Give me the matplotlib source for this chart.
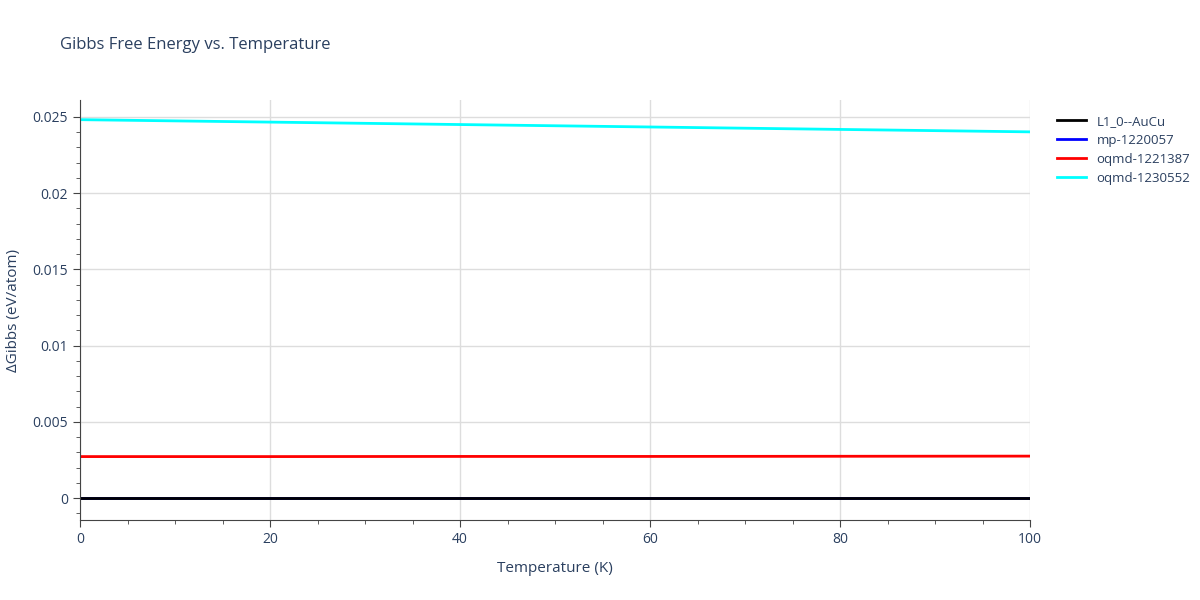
import matplotlib
matplotlib.use("Agg")
import matplotlib.pyplot as plt
import numpy as np

temps = [0, 20, 40, 60, 80, 100]
labels = ["L1_0--AuCu", "mp-1220057", "oqmd-1221387", "oqmd-1230552"]
colors = ["black", "blue", "red", "cyan"]
g_l10 = [0, 0, 0, 0, 0, 0]
g_mp = [0, 0, 0, 0, 0, 0]
g_oq1 = [0.00272, 0.00272, 0.00273, 0.00273, 0.00274, 0.00275]
g_oq2 = [0.02482, 0.02466, 0.02450, 0.02434, 0.02418, 0.02402]
series = [g_l10, g_mp, g_oq1, g_oq2]

plt.rcParams['font.family'] = ['Open Sans', 'DejaVu Sans']
fig = plt.figure(figsize=(12, 6), dpi=100)
ax = fig.add_axes([80/1200, 80/600, 950/1200, 420/600])
for s, l, c in zip(series[::-1], labels[::-1], colors[::-1]):
    pass
order = [1, 0, 2, 3]
handles = {}
for i in [1, 2, 3, 0]:
    h, = ax.plot(temps, series[i], color=colors[i], lw=2, label=labels[i])
    handles[i] = h
ax.set_xlim(0, 100)
ax.set_ylim(-0.00144, 0.02611)
ax.set_xticks([0, 20, 40, 60, 80, 100])
ax.set_xticks(np.arange(0, 101, 5), minor=True)
ax.set_yticks([0, 0.005, 0.01, 0.015, 0.02, 0.025])
ax.set_yticklabels(["0", "0.005", "0.01", "0.015", "0.02", "0.025"])
ax.set_yticks(np.arange(-0.001, 0.026, 0.001), minor=True)
ax.grid(True, which='major', color='#dddddd', lw=1)
ax.set_axisbelow(True)
for sp in ['top', 'right']:
    ax.spines[sp].set_visible(False)
for sp in ['left', 'bottom']:
    ax.spines[sp].set_color('#444444')
ax.tick_params(which='both', colors='#444444', labelcolor='#2a3f5f', labelsize=10)
ax.tick_params(which='major', length=5)
ax.tick_params(which='minor', length=3)
ax.set_xlabel("Temperature (K)", color='#2a3f5f', fontsize=11, labelpad=10)
ax.set_ylabel("ΔGibbs (eV/atom)", color='#2a3f5f', fontsize=11, labelpad=8)
fig.text(60/1200, 1-45/600, "Gibbs Free Energy vs. Temperature", color='#2a3f5f', fontsize=12, va='center')
leg = fig.legend([handles[i] for i in range(4)], labels, loc='upper left',
                 bbox_to_anchor=(1045/1200, 1-103/600), frameon=False,
                 fontsize=9.5, handlelength=2.2, labelspacing=0.45)
for t in leg.get_texts():
    t.set_color('#2a3f5f')
fig.savefig("out.png")
